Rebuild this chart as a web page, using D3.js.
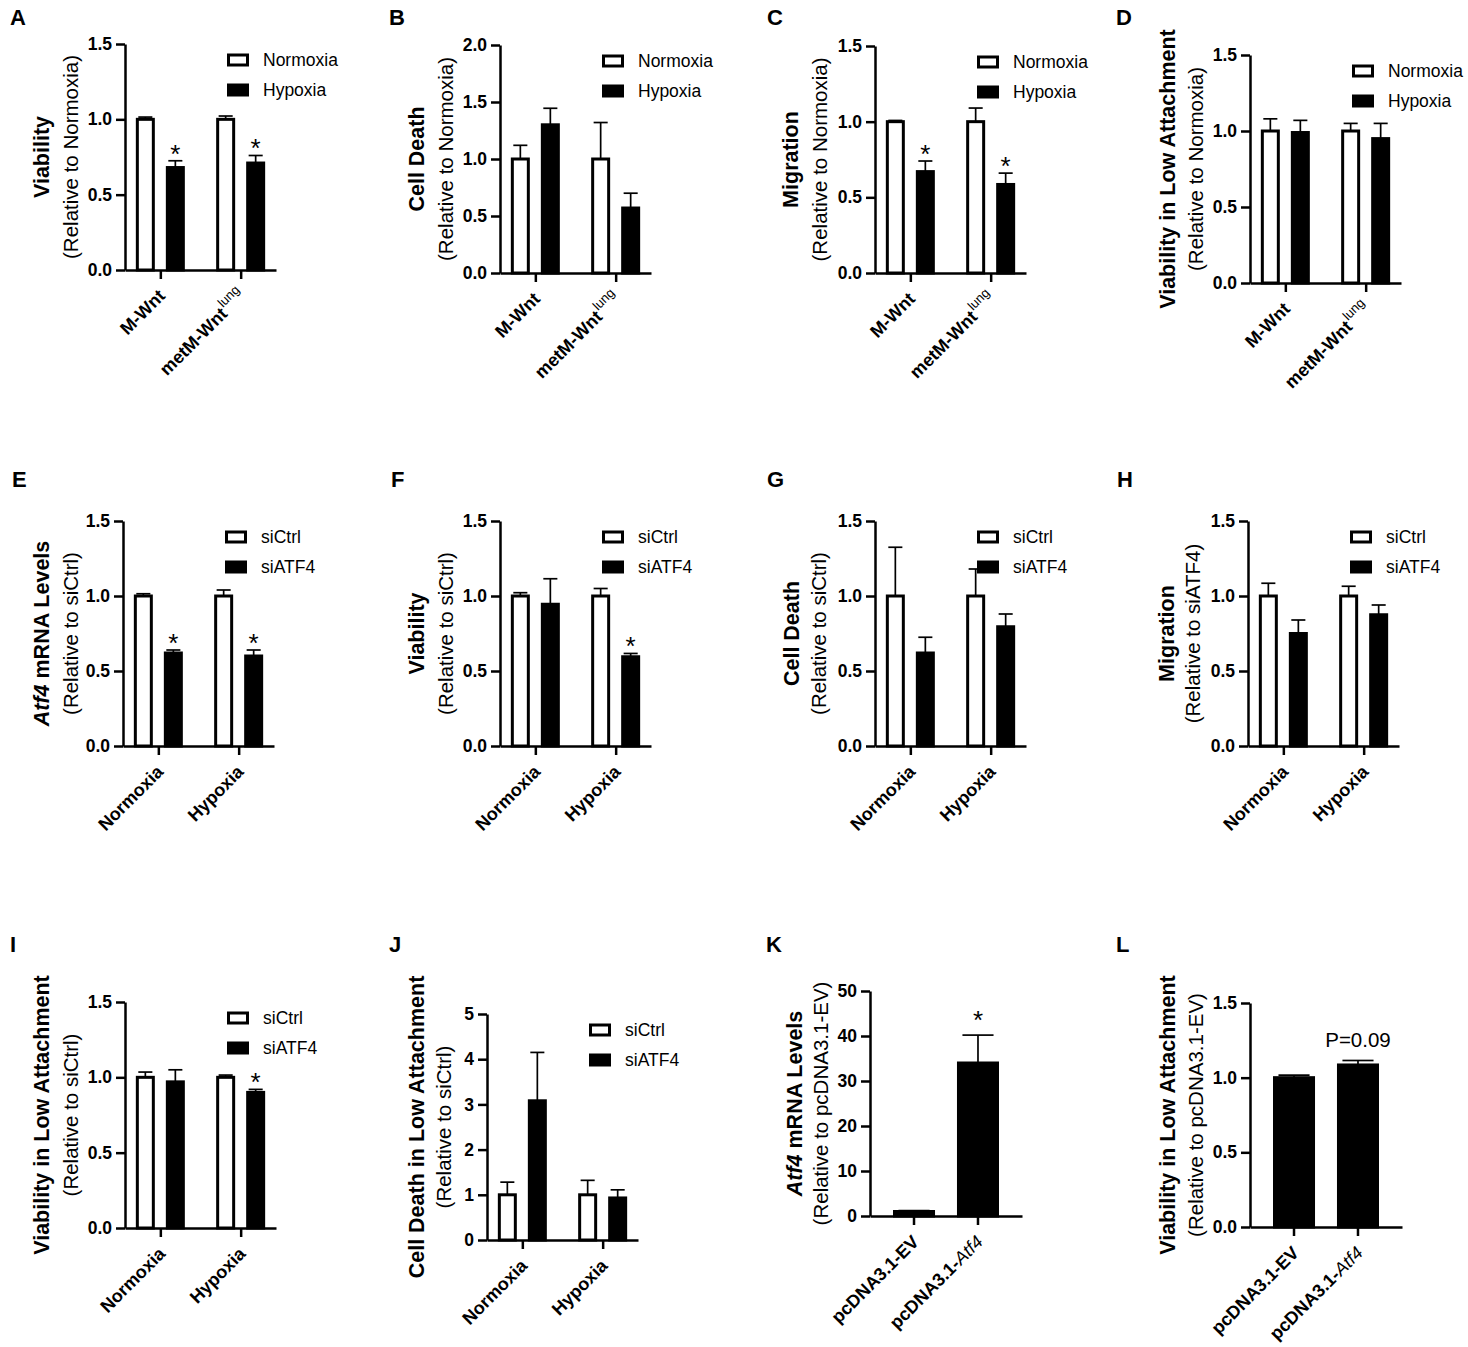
<!DOCTYPE html>
<html>
<head>
<meta charset="utf-8">
<script src="https://cdn.jsdelivr.net/npm/d3@7"></script>
<style>
body { margin: 0; background: #fff; }
text { font-family: "Liberation Sans", Arial, sans-serif; fill: #000; }
</style>
</head>
<body>
<script>
var W = 1468, H = 1347;
var FONT = '"Liberation Sans", Arial, sans-serif';

// categories
var oxygen = ["Normoxia", "Hypoxia"];
var sirna = ["siCtrl", "siATF4"];
var cellLines = ["M-Wnt", "metM-Wnt"];
var plasmids = ["pcDNA3.1-EV", "pcDNA3.1-Atf4"];

// y tick values
var ticks15 = [0, 0.5, 1.0, 1.5];
var ticks20 = [0, 0.5, 1.0, 1.5, 2.0];
var ticks5 = [0, 1, 2, 3, 4, 5];
var ticks50 = [0, 10, 20, 30, 40, 50];

// values: [series][group], error = upper SEM
var aMean = [[1.00, 1.00], [0.68, 0.71]], aErr = [[0.015, 0.022], [0.045, 0.05]], aStar = [[0, 0], [1, 1]];
var bMean = [[1.00, 1.00], [1.30, 0.57]], bErr = [[0.12, 0.32], [0.145, 0.13]];
var cMean = [[1.00, 1.00], [0.67, 0.585]], cErr = [[0.008, 0.09], [0.07, 0.075]], cStar = [[0, 0], [1, 1]];
var dMean = [[1.00, 1.00], [0.99, 0.95]], dErr = [[0.08, 0.05], [0.08, 0.10]];
var eMean = [[1.00, 1.00], [0.62, 0.60]], eErr = [[0.015, 0.04], [0.02, 0.04]], eStar = [[0, 0], [1, 1]];
var fMean = [[1.00, 1.00], [0.945, 0.595]], fErr = [[0.022, 0.05], [0.17, 0.022]], fStar = [[0, 0], [0, 1]];
var gMean = [[1.00, 1.00], [0.62, 0.795]], gErr = [[0.325, 0.18], [0.105, 0.085]];
var hMean = [[1.00, 1.00], [0.75, 0.875]], hErr = [[0.085, 0.065], [0.09, 0.065]];
var iMean = [[1.00, 1.00], [0.97, 0.90]], iErr = [[0.035, 0.015], [0.08, 0.02]], iStar = [[0, 0], [0, 1]];
var jMean = [[1.00, 1.00], [3.08, 0.93]], jErr = [[0.28, 0.32], [1.07, 0.18]];
var kMean = [1.0, 34.0], kErr = [0.2, 6.2], kStar = [0, 1];
var lMean = [1.0, 1.085], lErr = [0.017, 0.03], lNote = ["", "P=0.09"];

var svg = d3.select("body").append("svg")
	.attr("width", W)
	.attr("height", H);

var atf4Title = [{t: "Atf4", i: true}, {t: " mRNA Levels"}];

var panels = [
	{id: "A", lx: 10, ly: 25, ax: 125, top: 44, bottom: 270, max: 1.5, ticks: ticks15, fmt: ".1f", groups: cellLines, series: oxygen, mean: aMean, err: aErr, star: aStar, t1: "Viability", t2: "(Relative to Normoxia)", off: [-83, -55]},
	{id: "B", lx: 389, ly: 25, ax: 500, top: 45, bottom: 273, max: 2.0, ticks: ticks20, fmt: ".1f", groups: cellLines, series: oxygen, mean: bMean, err: bErr, t1: "Cell Death", t2: "(Relative to Normoxia)", off: [-83, -55]},
	{id: "C", lx: 767, ly: 25, ax: 875, top: 46, bottom: 273, max: 1.5, ticks: ticks15, fmt: ".1f", groups: cellLines, series: oxygen, mean: cMean, err: cErr, star: cStar, t1: "Migration", t2: "(Relative to Normoxia)", off: [-84, -56]},
	{id: "D", lx: 1116, ly: 25, ax: 1250, top: 55, bottom: 283, max: 1.5, ticks: ticks15, fmt: ".1f", groups: cellLines, series: oxygen, mean: dMean, err: dErr, t1: "Viability in Low Attachment", t2: "(Relative to Normoxia)", off: [-82, -55]},
	{id: "E", lx: 12, ly: 487, ax: 123, top: 521, bottom: 746, max: 1.5, ticks: ticks15, fmt: ".1f", groups: oxygen, series: sirna, mean: eMean, err: eErr, star: eStar, t1: atf4Title, t2: "(Relative to siCtrl)", off: [-81, -53]},
	{id: "F", lx: 391, ly: 487, ax: 500, top: 521, bottom: 746, max: 1.5, ticks: ticks15, fmt: ".1f", groups: oxygen, series: sirna, mean: fMean, err: fErr, star: fStar, t1: "Viability", t2: "(Relative to siCtrl)", off: [-83, -55]},
	{id: "G", lx: 767, ly: 487, ax: 875, top: 521, bottom: 746, max: 1.5, ticks: ticks15, fmt: ".1f", groups: oxygen, series: sirna, mean: gMean, err: gErr, t1: "Cell Death", t2: "(Relative to siCtrl)", off: [-83, -57]},
	{id: "H", lx: 1117, ly: 487, ax: 1248, top: 521, bottom: 746, max: 1.5, ticks: ticks15, fmt: ".1f", groups: oxygen, series: sirna, mean: hMean, err: hErr, t1: "Migration", t2: "(Relative to siATF4)", off: [-81, -56]},
	{id: "I", lx: 10, ly: 952, ax: 125, top: 1002, bottom: 1228, max: 1.5, ticks: ticks15, fmt: ".1f", groups: oxygen, series: sirna, mean: iMean, err: iErr, star: iStar, t1: "Viability in Low Attachment", t2: "(Relative to siCtrl)", off: [-83, -55]},
	{id: "J", lx: 389, ly: 952, ax: 487, top: 1014, bottom: 1240, max: 5, ticks: ticks5, fmt: "d", groups: oxygen, series: sirna, mean: jMean, err: jErr, t1: "Cell Death in Low Attachment", t2: "(Relative to siCtrl)", off: [-70, -44]},
	{id: "K", lx: 766, ly: 952, ax: 870, top: 991, bottom: 1216, max: 50, ticks: ticks50, fmt: "d", groups: plasmids, mean: kMean, err: kErr, star: kStar, starGap: 8, t1: atf4Title, t2: "(Relative to pcDNA3.1-EV)", off: [-75, -50]},
	{id: "L", lx: 1116, ly: 952, ax: 1250, top: 1003, bottom: 1227, max: 1.5, ticks: ticks15, fmt: ".1f", groups: plasmids, mean: lMean, err: lErr, note: lNote, t1: "Viability in Low Attachment", t2: "(Relative to pcDNA3.1-EV)", off: [-82, -55]}
];

// split a category name into styled pieces (superscript / italic gene)
function labelParts(name) {
	if (name === "metM-Wnt") return [{t: "metM-Wnt"}, {t: "lung", sup: true}];
	if (name === "pcDNA3.1-Atf4") return [{t: "pcDNA3.1-"}, {t: "Atf4", i: true, normal: true}];
	return [{t: name}];
}

function addParts(text, parts) {
	parts.forEach(function(p) {
		var ts = text.append("tspan").text(p.t);
		if (p.i) ts.attr("font-style", "italic");
		if (p.normal) ts.attr("font-weight", "normal");
		if (p.sup) ts.attr("font-size", 13).attr("font-weight", "normal").attr("dx", 1).attr("dy", -9);
	});
}

function drawPanel(p) {
	var g = svg.append("g");
	var y = d3.scaleLinear().domain([0, p.max]).range([p.bottom, p.top]);
	var x, bars = [];

	g.append("text")
		.attr("x", p.lx).attr("y", p.ly)
		.attr("font-size", 22).attr("font-weight", "bold")
		.text(p.id);

	if (p.series) {
		x = d3.scalePoint().domain(p.groups).range([p.ax, p.ax + 151]).padding(0.44);
		var xs = d3.scaleBand().domain(p.series).range([-23, 23]).paddingInner(0.467);
		p.series.forEach(function(s, si) {
			p.groups.forEach(function(gr, gi) {
				bars.push({x: x(gr) + xs(s), w: xs.bandwidth(), v: p.mean[si][gi], e: p.err[si][gi],
					star: p.star && p.star[si][gi], fill: si === 0 ? "#fff" : "#000"});
			});
		});
	} else {
		x = d3.scaleBand().domain(p.groups).range([p.ax, p.ax + 152]).paddingInner(0.39).paddingOuter(0.383);
		p.groups.forEach(function(gr, gi) {
			bars.push({x: x(gr), w: x.bandwidth(), v: p.mean[gi], e: p.err[gi],
				star: p.star && p.star[gi], note: p.note && p.note[gi], fill: "#000"});
		});
	}

	// error bars (upper only)
	var eb = g.selectAll(".err").data(bars).enter().append("g");
	eb.append("line")
		.attr("x1", d => d.x + d.w / 2).attr("x2", d => d.x + d.w / 2)
		.attr("y1", d => y(d.v)).attr("y2", d => y(d.v + d.e))
		.attr("stroke", "#000").attr("stroke-width", 1.7);
	eb.append("line")
		.attr("x1", d => d.x + d.w / 2 - (d.w + 3) * 0.37).attr("x2", d => d.x + d.w / 2 + (d.w + 3) * 0.37)
		.attr("y1", d => y(d.v + d.e)).attr("y2", d => y(d.v + d.e))
		.attr("stroke", "#000").attr("stroke-width", 1.7);

	g.selectAll(".bar").data(bars).enter().append("rect")
		.attr("x", d => d.x).attr("width", d => d.w)
		.attr("y", d => y(d.v)).attr("height", d => y(0) - y(d.v))
		.attr("fill", d => d.fill)
		.attr("stroke", "#000").attr("stroke-width", 3);

	// significance marks
	g.selectAll(".star").data(bars.filter(d => d.star)).enter().append("text")
		.attr("x", d => d.x + d.w / 2)
		.attr("y", d => y(d.v + d.e) + 2 - (p.starGap || 0))
		.attr("text-anchor", "middle").attr("font-size", 26)
		.text("*");
	g.selectAll(".note").data(bars.filter(d => d.note)).enter().append("text")
		.attr("x", d => d.x + d.w / 2)
		.attr("y", d => y(d.v + d.e) - 13)
		.attr("text-anchor", "middle").attr("font-size", 20.5)
		.text(d => d.note);

	// axes
	var ya = g.append("g")
		.attr("transform", "translate(" + p.ax + ",0)")
		.call(d3.axisLeft(y).tickValues(p.ticks).tickFormat(d3.format(p.fmt)).tickSize(9).tickSizeOuter(0).tickPadding(4));
	ya.attr("font-size", 17.5).attr("font-family", FONT).attr("font-weight", "bold");
	ya.select(".domain").attr("stroke-width", 2.5);
	ya.selectAll(".tick line").attr("stroke-width", 2.5);

	var xa = g.append("g")
		.attr("transform", "translate(0," + p.bottom + ")")
		.call(d3.axisBottom(x).tickSize(9).tickSizeOuter(0).tickFormat(""));
	xa.select(".domain").attr("stroke-width", 2.5);
	xa.selectAll(".tick line").attr("stroke-width", 2.5);

	var xc = p.series ? (d => x(d)) : (d => x(d) + x.bandwidth() / 2);
	p.groups.forEach(function(gr) {
		var t = g.append("text")
			.attr("transform", "translate(" + (xc(gr) + 6) + "," + (p.bottom + 27) + ") rotate(-45)")
			.attr("text-anchor", "end")
			.attr("font-size", 18).attr("font-weight", "bold");
		addParts(t, labelParts(gr));
	});

	// y title
	var cy = (p.top + p.bottom) / 2;
	var t1 = g.append("text")
		.attr("transform", "translate(" + (p.ax + p.off[0]) + "," + cy + ") rotate(-90)")
		.attr("text-anchor", "middle").attr("dominant-baseline", "central")
		.attr("font-size", 21.5).attr("font-weight", "bold");
	addParts(t1, typeof p.t1 === "string" ? [{t: p.t1}] : p.t1);
	g.append("text")
		.attr("transform", "translate(" + (p.ax + p.off[1]) + "," + cy + ") rotate(-90)")
		.attr("text-anchor", "middle").attr("dominant-baseline", "central")
		.attr("font-size", 20.5)
		.text(p.t2);

	// legend
	if (p.series) {
		var lg = g.selectAll(".leg").data(p.series).enter().append("g")
			.attr("transform", (d, i) => "translate(" + (p.ax + 102) + "," + (p.top + 16 + i * 30) + ")");
		lg.append("rect")
			.attr("x", 1.5).attr("y", -5).attr("width", 19).attr("height", 10)
			.attr("fill", (d, i) => i === 0 ? "#fff" : "#000")
			.attr("stroke", "#000").attr("stroke-width", 3);
		lg.append("text")
			.attr("x", 36).attr("y", 0)
			.attr("dominant-baseline", "central")
			.attr("font-size", 17.5)
			.text(d => d);
	}
}

panels.forEach(drawPanel);
</script>
</body>
</html>
